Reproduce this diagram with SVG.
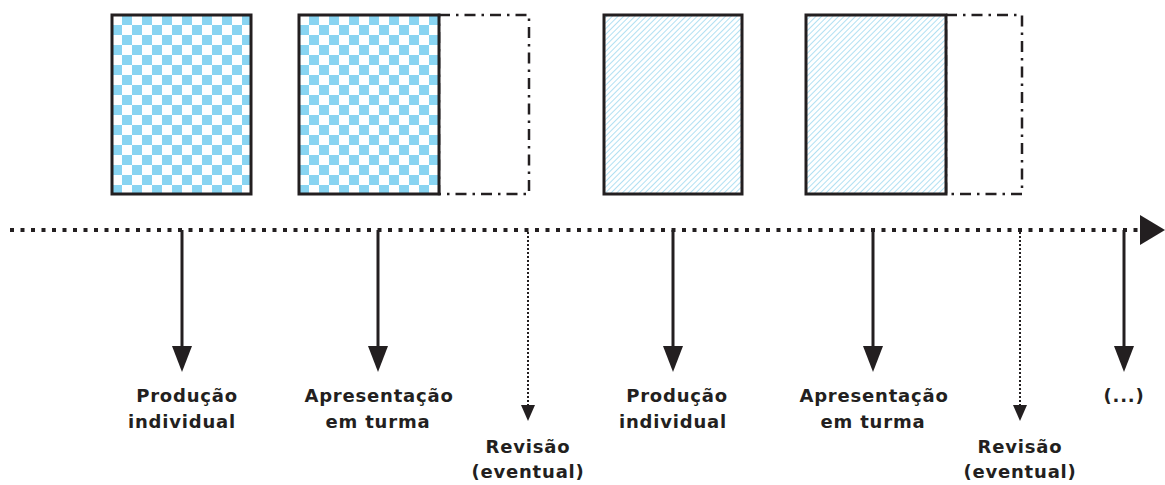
<svg xmlns="http://www.w3.org/2000/svg" width="1165" height="485" viewBox="0 0 1165 485">
<style>
.box{stroke:#231f20;stroke-width:3}
.ext{fill:none;stroke:#231f20;stroke-width:2.5;stroke-dasharray:11 6 2.5 6}
.sol{stroke:#231f20;stroke-width:3}
.dot{stroke:#231f20;stroke-width:2;stroke-dasharray:2 2}
.lbl{font-family:"DejaVu Sans",Verdana,sans-serif;font-weight:bold;font-size:18px;letter-spacing:0.8px;fill:#231f20;text-anchor:middle}
</style>
<defs>
<pattern id="chk" x="112" y="15" width="20" height="20" patternUnits="userSpaceOnUse">
<rect width="20" height="20" fill="#ffffff"/>
<rect x="10" y="0" width="10" height="10" fill="#89d4f1"/>
<rect x="0" y="10" width="10" height="10" fill="#89d4f1"/>
</pattern>
<pattern id="chk2" x="299" y="15" width="20" height="20" patternUnits="userSpaceOnUse">
<rect width="20" height="20" fill="#ffffff"/>
<rect x="10" y="0" width="10" height="10" fill="#89d4f1"/>
<rect x="0" y="10" width="10" height="10" fill="#89d4f1"/>
</pattern>
<pattern id="hatch" width="4" height="4" patternUnits="userSpaceOnUse" patternTransform="rotate(45)">
<rect width="4" height="4" fill="#ffffff"/>
<line x1="0" y1="0" x2="0" y2="4" stroke="#86cfec" stroke-width="1.3"/>
</pattern>
</defs>

<g id="node-producao-1">
<rect x="112" y="15" width="139" height="179" style="fill:url(#chk)" class="box"/>
</g>
<g id="node-apresentacao-1">
<rect x="439" y="15" width="90" height="179" class="ext"/>
<rect x="299" y="15" width="140" height="179" style="fill:url(#chk2)" class="box"/>
</g>
<g id="node-producao-2">
<rect x="604" y="15" width="138" height="179" style="fill:url(#hatch)" class="box"/>
</g>
<g id="node-apresentacao-2">
<rect x="946" y="15" width="76" height="179" class="ext"/>
<rect x="806" y="15" width="140" height="179" style="fill:url(#hatch)" class="box"/>
</g>

<g id="connectors">
<line x1="10" y1="230" x2="1142" y2="230" stroke="#231f20" stroke-width="4" stroke-dasharray="4 6.5"/>
<path d="M1140,215 L1165,230 L1140,245 Z" fill="#231f20"/>
<line x1="182" y1="230" x2="182" y2="350" class="sol"/>
<path d="M172,346 L192,346 L182,372 Z" fill="#231f20"/>
<line x1="378" y1="230" x2="378" y2="350" class="sol"/>
<path d="M368,346 L388,346 L378,372 Z" fill="#231f20"/>
<line x1="673" y1="230" x2="673" y2="350" class="sol"/>
<path d="M663,346 L683,346 L673,372 Z" fill="#231f20"/>
<line x1="873" y1="230" x2="873" y2="350" class="sol"/>
<path d="M863,346 L883,346 L873,372 Z" fill="#231f20"/>
<line x1="1124" y1="230" x2="1124" y2="350" class="sol"/>
<path d="M1114,346 L1134,346 L1124,372 Z" fill="#231f20"/>
<line x1="528" y1="232" x2="528" y2="408" class="dot"/>
<path d="M521,405 L535,405 L528,421 Z" fill="#231f20"/>
<line x1="1020" y1="232" x2="1020" y2="408" class="dot"/>
<path d="M1013,405 L1027,405 L1020,421 Z" fill="#231f20"/>
</g>

<g id="labels">
<text class="lbl" x="187" y="402">Produção</text>
<text class="lbl" x="182" y="428">individual</text>
<text class="lbl" x="379" y="402">Apresentação</text>
<text class="lbl" x="378" y="428">em turma</text>
<text class="lbl" x="528" y="453">Revisão</text>
<text class="lbl" x="528" y="478">(eventual)</text>
<text class="lbl" x="677" y="402">Produção</text>
<text class="lbl" x="673" y="428">individual</text>
<text class="lbl" x="874" y="402">Apresentação</text>
<text class="lbl" x="873" y="428">em turma</text>
<text class="lbl" x="1020" y="453">Revisão</text>
<text class="lbl" x="1020" y="478">(eventual)</text>
<text class="lbl" x="1124" y="402">(...)</text>
</g>
</svg>
